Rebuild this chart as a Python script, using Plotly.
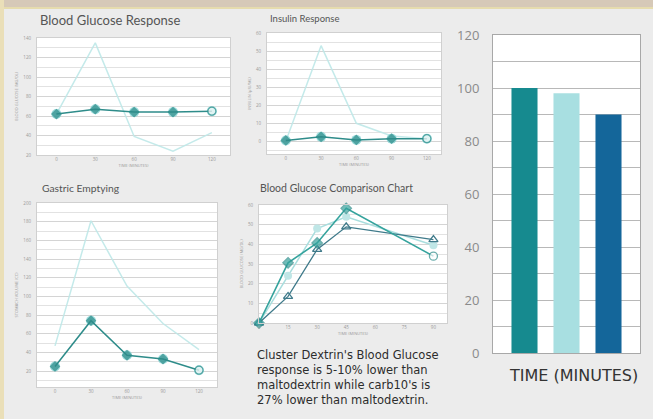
import plotly.graph_objects as go

W, H = 653, 419

# ---------------- data ----------------
time_pts = [0, 30, 60, 90, 120]

bg_cluster = [62, 67, 64, 64, 65]
bg_malto = [62, 135, 39, 24, 43]

ins_cluster = [0.5, 2.5, 0.8, 1.5, 1.5]
ins_malto = [0, 53, 10, 3, 1.5]

ge_cluster = [25, 74, 37, 33, 21]
ge_malto = [47, 181, 111, 71, 43]

cmp_time = [0, 15, 30, 45, 90]
cmp_malto = [0, 30.6, 40.7, 58.3, 34]
cmp_cluster = [0, 24, 48, 54, 39.5]
cmp_carb10 = [0, 13.5, 37.4, 48.9, 42.4]

bar_labels = ["Maltodextrin", "Cluster Dextrin", "Carb10"]
bar_values = [100, 98, 90]
bar_colors = ["#168a8f", "#a8dfe1", "#14669a"]

titles = ["Blood Glucose Response", "Insulin Response", "Gastric Emptying",
          "Blood Glucose Comparison Chart"]
ytitles = ["BLOOD GLUCOSE (MG/DL)", "INSULIN (µIU/ML)", "STOMACH VOLUME (CC)",
           "BLOOD GLUCOSE (MG/DL)"]
note_lines = ["Cluster Dextrin's Blood Glucose", "response is 5-10% lower than",
              "maltodextrin while carb10's is", "27% lower than maltodextrin."]

# --------------- layout helpers ---------------
def xd(a, b):
    return [a / W, b / W]

def yd(top, bot):
    return [1 - bot / H, 1 - top / H]

DARK = "#2e8c8a"
HALO = "rgba(120,205,205,0.75)"
LIGHT = "rgba(190,232,232,0.9)"

fig = go.Figure()

panels = [
    dict(ax="", x=xd(37, 230), y=yd(38, 155), xr=[-15, 134], yr=[20, 140],
         tv=list(range(20, 141, 20)), minor=10, dark=bg_cluster, light=bg_malto),
    dict(ax="2", x=xd(267, 441), y=yd(33, 154), xr=[-16, 132], yr=[-7, 60],
         tv=list(range(0, 61, 10)), minor=5, dark=ins_cluster, light=ins_malto),
    dict(ax="3", x=xd(37, 217), y=yd(203, 387), xr=[-15, 135], yr=[3, 200],
         tv=list(range(20, 201, 20)), minor=10, dark=ge_cluster, light=ge_malto),
]

for p in panels:
    xa = "x" + p["ax"]
    ya = "y" + p["ax"]
    fig.add_trace(go.Scatter(x=time_pts, y=p["light"], mode="lines",
                             line=dict(color=LIGHT, width=1.5),
                             xaxis=xa, yaxis=ya, showlegend=False, cliponaxis=False))
    fig.add_trace(go.Scatter(x=time_pts, y=p["dark"], mode="markers",
                             marker=dict(symbol="circle", size=10, color=HALO),
                             xaxis=xa, yaxis=ya, showlegend=False, cliponaxis=False))
    fig.add_trace(go.Scatter(x=time_pts, y=p["dark"], mode="lines+markers",
                             line=dict(color=DARK, width=1.5),
                             marker=dict(symbol=["diamond"] * 4 + ["circle"],
                                         size=[7, 7, 7, 7, 8],
                                         color=[DARK] * 4 + ["white"],
                                         line=dict(color=DARK, width=1.2)),
                             xaxis=xa, yaxis=ya, showlegend=False, cliponaxis=False))

# comparison chart
fig.add_trace(go.Scatter(x=cmp_time, y=cmp_cluster, mode="lines+markers",
                         line=dict(color="#a9dede", width=1.5),
                         marker=dict(symbol="circle", size=8, color="#bfe6e6"),
                         xaxis="x4", yaxis="y4", showlegend=False, cliponaxis=False))
fig.add_trace(go.Scatter(x=cmp_time, y=cmp_carb10, mode="lines+markers",
                         line=dict(color="#3f7a8a", width=1.3),
                         marker=dict(symbol="triangle-up-open", size=8,
                                     color="#3f7a8a", line=dict(width=1.3)),
                         xaxis="x4", yaxis="y4", showlegend=False, cliponaxis=False))
fig.add_trace(go.Scatter(x=cmp_time, y=cmp_malto, mode="lines+markers",
                         line=dict(color="#35a39d", width=1.6),
                         marker=dict(symbol=["diamond"] * 4 + ["circle"],
                                     size=[8, 8, 8, 8, 8],
                                     color=["#35a39d"] * 4 + ["white"],
                                     line=dict(color="#2e8c8a", width=1.3)),
                         xaxis="x4", yaxis="y4", showlegend=False, cliponaxis=False))

# bar chart
fig.add_trace(go.Bar(x=[0, 1, 2], y=bar_values, width=0.62,
                     marker=dict(color=bar_colors, line=dict(width=0)),
                     hovertext=bar_labels, xaxis="x5", yaxis="y5", showlegend=False))

small_tick = dict(size=4.5, color="#9a9a9a", family="Open Sans")

def small_axes(n, xdom, ydom, xr, yr, tv, minor, xtv, ytitle):
    s = "" if n == 1 else str(n)
    fig.update_layout(**{
        "xaxis" + s: dict(domain=xdom, range=xr, anchor="y" + s, tickvals=xtv,
                          automargin=False,
                          showgrid=False, zeroline=False, showline=True,
                          linecolor="#d0d0d0", mirror=True, ticks="",
                          tickfont=small_tick,
                          title=dict(text="TIME (MINUTES)", font=dict(size=4, color="#9a9a9a"),
                                     standoff=2)),
        "yaxis" + s: dict(domain=ydom, range=yr, anchor="x" + s, tickvals=tv,
                          automargin=False,
                          showgrid=True, gridcolor="#d4d4d4", gridwidth=1,
                          minor=dict(dtick=minor, showgrid=True, gridcolor="#e2e2e2"),
                          zeroline=False, showline=True, linecolor="#d0d0d0",
                          mirror=True, ticks="", tickfont=small_tick,
                          ticklabelstandoff=4,
                          title=dict(text=ytitle, font=dict(size=4, color="#9a9a9a"),
                                     standoff=4)),
    })

xt = [0, 30, 60, 90, 120]
for i, p in enumerate(panels):
    small_axes(i + 1, p["x"], p["y"], p["xr"], p["yr"], p["tv"], p["minor"], xt, ytitles[i])
small_axes(4, xd(259, 447), yd(205, 323), [0, 97], [0, 60],
           list(range(0, 61, 10)), 5, [0, 15, 30, 45, 60, 75, 90], ytitles[3])

fig.update_layout(
    xaxis5=dict(domain=xd(493, 640), range=[-0.75, 2.75], anchor="y5",
                automargin=False,
                showticklabels=False, showgrid=False, zeroline=False,
                showline=True, linecolor="#a8a8a8", mirror=True, ticks=""),
    yaxis5=dict(domain=yd(35, 353), range=[0, 120], anchor="x5",
                automargin=False,
                dtick=20, showgrid=True, gridcolor="#b8b8b8",
                minor=dict(dtick=10, showgrid=True, gridcolor="#b8b8b8"),
                zeroline=False, showline=True, linecolor="#a8a8a8", mirror=True,
                ticks="", ticklabelstandoff=10,
                tickfont=dict(size=13, color="#8a8a8a", family="Open Sans")),
)

ann = []
title_pos = [(38, 20, 13), (268, 18, 9.5), (40, 188, 10.3), (258, 188, 10.5)]
for t, (x, y, s) in zip(titles, title_pos):
    ann.append(dict(text=t, x=x / W, y=1 - y / H, xref="paper", yref="paper",
                    xanchor="left", yanchor="middle", showarrow=False,
                    font=dict(size=s, color="#555555", family="Lato")))
ann.append(dict(text="TIME (MINUTES)", x=573 / W, y=1 - 375 / H, xref="paper", yref="paper",
                xanchor="center", yanchor="middle", showarrow=False,
                font=dict(size=16, color="#333333", family="DejaVu Sans")))
ann.append(dict(text="<br>".join(note_lines), x=255 / W, y=1 - 377 / H,
                xref="paper", yref="paper", xanchor="left", yanchor="middle",
                align="left", showarrow=False,
                font=dict(size=11.5, color="#2d2d2d", family="DejaVu Sans")))

fig.update_layout(
    width=W, height=H, autosize=False,
    margin=dict(l=0, r=0, t=0, b=0, pad=0, autoexpand=False),
    paper_bgcolor="#ececec", plot_bgcolor="white",
    annotations=ann,
    shapes=[
        dict(type="rect", xref="paper", yref="paper", x0=0, x1=1, y0=1 - 7 / H, y1=1,
             fillcolor="#d6c9b8", line=dict(width=0), layer="below"),
        dict(type="rect", xref="paper", yref="paper", x0=0, x1=4 / W, y0=0, y1=1,
             fillcolor="#eadfb8", line=dict(width=0), layer="below"),
        dict(type="line", xref="paper", yref="paper", x0=4 / W, x1=1, y0=1 - 8 / H,
             y1=1 - 8 / H, line=dict(color="#e6dcae", width=2), layer="below"),
    ],
)

fig.write_html("out.html",
               config={"displayModeBar": False, "responsive": False},
               post_script="document.body.style.margin='0';"
                           "document.body.style.overflow='hidden';")
